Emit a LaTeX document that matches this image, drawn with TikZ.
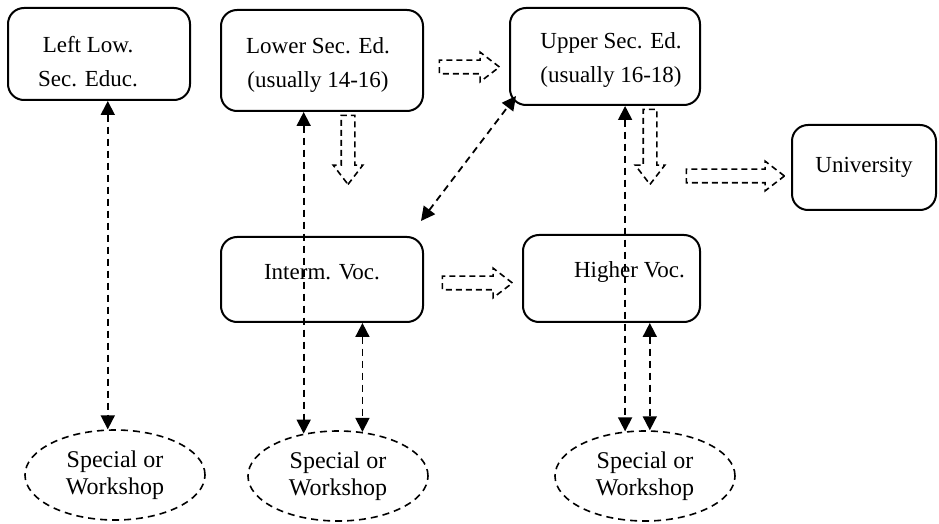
\documentclass[tikz,border=0pt]{standalone}
\usepackage{fontspec}
\setmainfont{Liberation Serif}
\usetikzlibrary{calc,shapes.geometric,shapes.arrows,arrows.meta}

\tikzset{
  box/.style={draw, line width=1pt, rounded corners=8pt, inner sep=0pt},
  spec/.style={draw, ellipse, dash pattern=on 3.5pt off 2.5pt, line width=0.8pt,
    align=center, inner sep=0pt, minimum width=90pt, minimum height=45pt,
    font=\fontsize{12}{13.5}\selectfont},
  dbl/.style={dash pattern=on 3.5pt off 2.5pt, line width=0.9pt,
    {Triangle[width=7pt,length=7pt]}-{Triangle[width=7pt,length=7pt]}},
  blk/.style={draw, single arrow, dash pattern=on 3pt off 2pt, line width=0.8pt,
    inner sep=3pt, single arrow head extend=4pt, single arrow tip angle=75,
    minimum height=#1},
}

\begin{document}
\begin{tikzpicture}[x=0.5pt,y=-0.5pt,font=\fontsize{11.5}{17}\selectfont]
\useasboundingbox (0,0) rectangle (939,524);

% boxes
\node[box, minimum width=91pt, minimum height=46pt,
  label={[align=center,xshift=-5.5pt,yshift=-4pt]center:Left Low.\\Sec. Educ.}] (llow) at (99,54) {};
\node[box, minimum width=101pt, minimum height=50.5pt,
  label={[align=center,xshift=-2pt,yshift=-2.5pt]center:Lower Sec. Ed.\\(usually 14-16)}] (lsec) at (322,60.5) {};
\node[box, minimum width=95pt, minimum height=48.5pt,
  label={[align=center,xshift=3pt,yshift=-2pt]center:Upper Sec. Ed.\\(usually 16-18)}] (usec) at (605,56.5) {};
\node[box, minimum width=72pt, minimum height=42.5pt,
  label={center:University}] (univ) at (864,167.5) {};
\node[box, minimum width=101pt, minimum height=42.5pt,
  label={[yshift=3.8pt]center:Interm. Voc.}] (interm) at (322,279.5) {};
\node[box, minimum width=88.5pt, minimum height=43.5pt,
  label={[xshift=9pt,yshift=3.2pt]center:Higher Voc.}] (hvoc) at (611.5,278.5) {};

% special schools
\node[spec] (sp1) at (115,475) {Special or\\Workshop};
\node[spec] (sp2) at (338,476) {Special or\\Workshop};
\node[spec] (sp3) at (645,476) {Special or\\Workshop};

% block arrows
\node[blk=30pt] (a1) at (465,67) {};
\node[blk=34.5pt, rotate=-90] (a2) at (348,145.5) {};
\node[blk=37.5pt, rotate=-90] (a3) at (650,142.5) {};
\node[blk=49pt] (a4) at (731,176) {};
\node[blk=35pt] (a5) at (473,283) {};

% links to special schools
\draw[dbl] (llow.south -| sp1.99) -- (sp1.99);
\draw[dbl] (lsec.south -| sp2.129) -- (sp2.129);
\draw[dbl] (interm.south -| sp2.61) -- (sp2.61);
\draw[dbl] (usec.south -| sp3.114) -- (sp3.114);
\draw[dbl] (hvoc.south -| sp3.84) -- (sp3.84);
\draw[dbl] ($(interm.north east)+(-3,-15)$) -- ($(usec.south west)+(7,-10)$);
\end{tikzpicture}
\end{document}
